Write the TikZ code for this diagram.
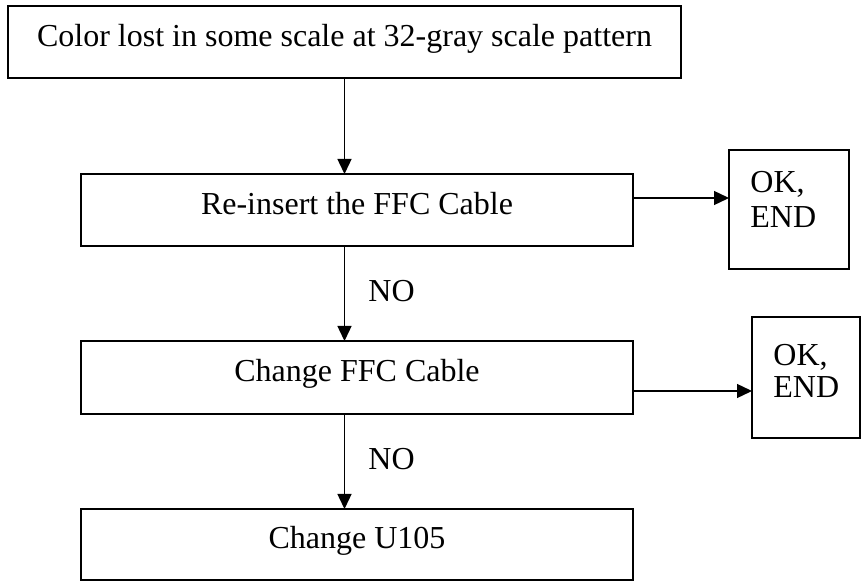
\documentclass[tikz,border=0pt]{standalone}
\usepackage{fontspec}
\setmainfont{Liberation Serif}
\usetikzlibrary{arrows.meta}
\begin{document}
\begin{tikzpicture}[x=0.5pt,y=-0.5pt,
  font=\fontsize{16}{17.5}\selectfont,
  box/.style={draw, line width=1pt, inner sep=0pt, outer sep=0pt, rectangle},
  txt/.style={inner sep=0pt, anchor=base},
  txtl/.style={inner sep=0pt, anchor=base west},
  arr/.style={line width=0.7pt, -{Triangle[length=7.5pt,width=7pt]}}]
\useasboundingbox (0,0) rectangle (864,583);
% boxes
\node[box, minimum width=336.5pt, minimum height=36pt] (b1) at (344.5,42) {};
\node[box, minimum width=276pt, minimum height=36pt] (b2) at (357,210) {};
\node[box, minimum width=276pt, minimum height=36.5pt] (b3) at (357,377.5) {};
\node[box, minimum width=276pt, minimum height=35.5pt] (b4) at (357,544.5) {};
\node[box, minimum width=60pt, minimum height=59.5pt] (ok1) at (789,209.5) {};
\node[box, minimum width=54pt, minimum height=60.5pt] (ok2) at (806,377.5) {};
% texts
\node[txt] (t1) at (344.5,47) {Color lost in some scale at 32-gray scale pattern};
\node[txt] (t2) at (357,215) {Re-insert the FFC Cable};
\node[txt] (t3) at (357,382) {Change FFC Cable};
\node[txt] (t4) at (357,548) {Change U105};
\node[txtl] (o1a) at (750,193) {OK,};
\node[txtl] (o1b) at (750,228) {END};
\node[txtl] (o2a) at (773,365) {OK,};
\node[txtl] (o2b) at (773,398) {END};
\node[txtl] (no1) at (368,302) {NO};
\node[txtl] (no2) at (368,470) {NO};
% connectors
\draw[arr] (b1.south) -- (b1.south |- b2.north);
\draw[arr] (b1.south |- b2.south) -- (b1.south |- b3.north);
\draw[arr] (b1.south |- b3.south) -- (b1.south |- b4.north);
\draw[arr] ([yshift=6pt]b2.east) -- ([yshift=6pt]b2.east -| ok1.west);
\draw[arr] ([yshift=-6.75pt]b3.east) -- ([yshift=-6.75pt]b3.east -| ok2.west);
\end{tikzpicture}
\end{document}
